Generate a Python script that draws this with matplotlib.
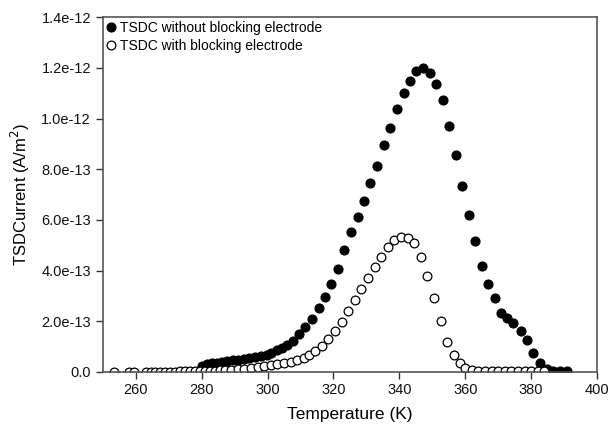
import matplotlib.pyplot as plt
from matplotlib.ticker import FuncFormatter

plt.rcParams['font.family'] = ['Liberation Sans', 'DejaVu Sans']

# temperature (K) and current (units of 1e-12 A/m^2)
t_without = [280, 281.7, 283.2, 284.8, 286.3, 287.8, 289.6, 291, 292.8, 294.3,
             296.1, 297.9, 299.7, 301.1, 302.9, 304.5, 306, 307.8, 309.5, 311.5,
             313.5, 315.5, 317.4, 319.3, 321.3, 323.3, 325.4, 327.4, 329.4, 331.2,
             333.2, 335.2, 337.3, 339.3, 341.3, 343.3, 345.2, 347.2, 349.2, 351.2,
             353.1, 355.2, 357.2, 359, 361, 363, 365.1, 366.9, 368.9, 370.9,
             372.6, 374.6, 376.9, 378.7, 380.7, 382.7, 384.8, 386.6, 388.8, 390.8]
i_without = [0.024, 0.030, 0.034, 0.037, 0.039, 0.042, 0.046, 0.048, 0.051, 0.055,
             0.059, 0.063, 0.068, 0.076, 0.087, 0.096, 0.106, 0.122, 0.149, 0.176,
             0.209, 0.251, 0.295, 0.347, 0.407, 0.481, 0.552, 0.610, 0.675, 0.744,
             0.812, 0.895, 0.961, 1.036, 1.101, 1.150, 1.187, 1.201, 1.178, 1.138,
             1.075, 0.971, 0.856, 0.735, 0.619, 0.518, 0.419, 0.346, 0.291, 0.231,
             0.212, 0.192, 0.163, 0.126, 0.074, 0.034, 0.012, 0.004, 0.003, 0.003]

t_with = [253.5, 258, 259.5, 263, 264.5, 266, 267.5, 269, 270.5, 272,
          273.5, 275, 276.5, 278, 279.5, 281, 282.5, 284, 285.5, 287,
          289, 291, 293, 295, 297, 299, 301, 303, 305, 307,
          309, 311, 312.5, 314.5, 316.5, 318.5, 320.5, 322.5, 324.5, 326.5,
          328.5, 330.5, 332.5, 334.5, 336.5, 338.5, 340.5, 342.5, 344.5, 346.5,
          348.5, 350.5, 352.5, 354.5, 356.5, 358.5, 360, 362, 364, 366,
          368, 370, 372, 374, 376, 378, 380, 382, 384]
i_with = [0.0, 0.0, 0.0, 0.0, 0.0, 0.0, 0.001, 0.001, 0.001, 0.001,
          0.002, 0.002, 0.002, 0.003, 0.003, 0.004, 0.004, 0.005, 0.006, 0.007,
          0.008, 0.010, 0.012, 0.015, 0.018, 0.022, 0.026, 0.031, 0.036, 0.041,
          0.047, 0.056, 0.067, 0.083, 0.104, 0.130, 0.163, 0.198, 0.241, 0.285,
          0.328, 0.371, 0.413, 0.453, 0.492, 0.519, 0.532, 0.530, 0.507, 0.455,
          0.380, 0.291, 0.201, 0.120, 0.067, 0.034, 0.015, 0.006, 0.004, 0.003,
          0.003, 0.003, 0.003, 0.003, 0.003, 0.003, 0.003, 0.003, 0.003]

x_ticks = [260, 280, 300, 320, 340, 360, 380, 400]
y_ticks = [0, 0.2, 0.4, 0.6, 0.8, 1.0, 1.2, 1.4]

fig = plt.figure(figsize=(6.08, 4.29), dpi=100)
ax = fig.add_axes([0.169, 0.133, 0.813, 0.827])

ax.plot(t_without, i_without, 'o', ms=6.3, color='black', mec='black',
        label='TSDC without blocking electrode')
ax.plot(t_with, i_with, 'o', ms=6.3, mfc='white', mec='black', mew=0.9,
        label='TSDC with blocking electrode')

ax.set_xlim(250, 400)
ax.set_ylim(0, 1.4)
ax.set_xticks(x_ticks)
ax.set_yticks(y_ticks)
ax.yaxis.set_major_formatter(FuncFormatter(
    lambda v, p: '0.0' if abs(v) < 1e-9 else f'{v * 1e-12:.1e}'))
ax.tick_params(direction='out', length=5, width=1, labelsize=10.5, colors='#333333',
               labelcolor='#111111')
ax.tick_params(axis='x', pad=3)
for s in ax.spines.values():
    s.set_color('#555555')
    s.set_linewidth(1.2)

ax.set_xlabel('Temperature (K)', fontsize=12.5, labelpad=7)
ax.set_ylabel('TSDCurrent (A/m$^2$)', fontsize=12, labelpad=7)

ax.legend(loc='upper left', frameon=False, fontsize=10, handlelength=0.6,
          handletextpad=0.35, borderaxespad=0.0, labelspacing=0.25, borderpad=0.3)

fig.savefig('out.png', dpi=100)
